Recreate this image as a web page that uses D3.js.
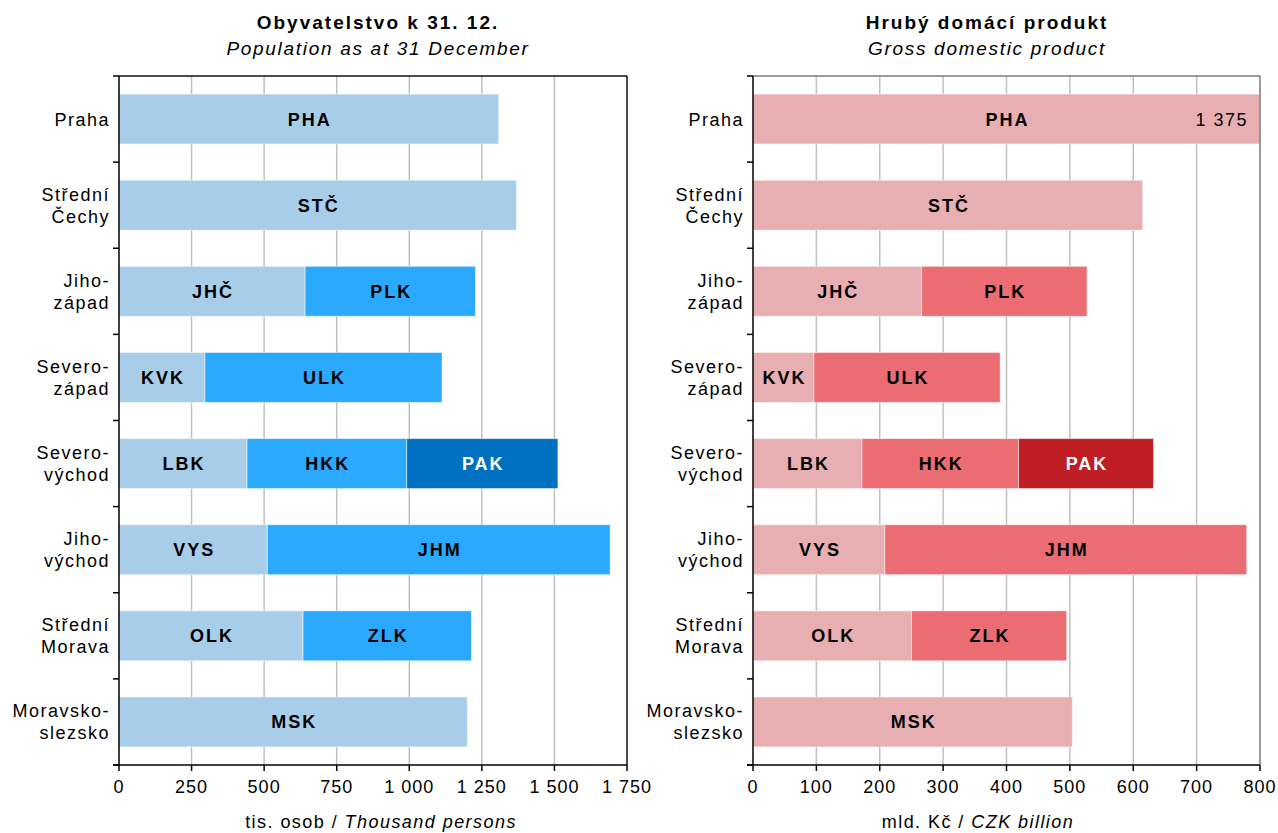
<!DOCTYPE html>
<html>
<head>
<meta charset="utf-8">
<script src="https://cdn.jsdelivr.net/npm/d3@7"></script>
<style>
  html, body { margin: 0; padding: 0; background: #fff; }
  svg { display: block; font-family: "Liberation Sans", Arial, sans-serif; }
</style>
</head>
<body>
<svg id="chart" width="1278" height="833"></svg>
<script>
// ---- Data ----
const regionNames = [["Praha"], ["Střední", "Čechy"], ["Jiho-", "západ"], ["Severo-", "západ"],
  ["Severo-", "východ"], ["Jiho-", "východ"], ["Střední", "Morava"], ["Moravsko-", "slezsko"]];
const regionCodes = [["PHA"], ["STČ"], ["JHČ", "PLK"], ["KVK", "ULK"], ["LBK", "HKK", "PAK"],
  ["VYS", "JHM"], ["OLK", "ZLK"], ["MSK"]];
const populationValues = [[1308], [1369], [641, 587], [296, 817], [441, 550, 521], [511, 1181], [634, 580], [1200]];
const gdpValues = [[1375], [615], [266, 261], [96, 294], [172, 247, 213], [208, 571], [250, 245], [504]];
const populationTicks = [0, 250, 500, 750, 1000, 1250, 1500, 1750];
const gdpTicks = [0, 100, 200, 300, 400, 500, 600, 700, 800];
const populationColors = ["#A7CDE8", "#2BA9FE", "#0070C0"];
const gdpColors = ["#E8AFB2", "#EB6C73", "#BE1E24"];

// ---- Drawing ----
const svg = d3.select("#chart");
const fmt = d3.formatLocale({ decimal: ",", thousands: "\u00a0", grouping: [3], currency: ["", ""] }).format(",d");
const FONT = 18;
const LS = 1.5;

function panel(opt) {
  const g = svg.append("g");
  const x = d3.scaleLinear().domain([0, opt.max]).range([opt.x0, opt.x1]);
  const y = d3.scaleBand().domain(d3.range(regionNames.length)).range([opt.y0, opt.y1]).paddingInner(0.42).paddingOuter(0.21);
  const step = y.step();

  // gridlines
  g.selectAll("line.grid").data(opt.ticks.filter(t => t > 0 && t < opt.max)).join("line")
    .attr("x1", d => x(d)).attr("x2", d => x(d))
    .attr("y1", opt.y0).attr("y2", opt.y1)
    .attr("stroke", "#C0C0C0").attr("stroke-width", 1.5);

  // bars
  regionCodes.forEach((codes, i) => {
    let acc = 0;
    codes.forEach((code, j) => {
      const v = opt.values[i][j];
      const a = acc, b = acc + v;
      acc = b;
      const xa = x(Math.min(a, opt.max)), xb = x(Math.min(b, opt.max));
      g.append("rect")
        .attr("x", xa).attr("y", y(i))
        .attr("width", xb - xa).attr("height", y.bandwidth())
        .attr("fill", opt.colors[j])
        .attr("stroke", "#ffffff").attr("stroke-opacity", 0.5).attr("stroke-width", 1);
      g.append("text")
        .attr("x", (xa + xb) / 2 + 1).attr("y", y(i) + y.bandwidth() / 2)
        .attr("dy", "0.36em").attr("text-anchor", "middle")
        .attr("font-weight", "bold").attr("font-size", FONT).attr("letter-spacing", 2)
        .attr("fill", j === 2 ? "#ffffff" : "#000000")
        .text(code);
      if (b > opt.max) {
        g.append("text")
          .attr("x", x(opt.max) - 12).attr("y", y(i) + y.bandwidth() / 2)
          .attr("dy", "0.36em").attr("text-anchor", "end")
          .attr("font-size", FONT).attr("letter-spacing", LS).attr("fill", "#000")
          .text(fmt(b));
      }
    });
  });

  // frame: top & right
  g.append("line").attr("x1", opt.x0).attr("x2", opt.x1).attr("y1", opt.y0).attr("y2", opt.y0)
    .attr("stroke", opt.frame).attr("stroke-width", 1.5);
  g.append("line").attr("x1", opt.x1).attr("x2", opt.x1).attr("y1", opt.y0).attr("y2", opt.y1)
    .attr("stroke", opt.frame).attr("stroke-width", 1.5);

  // left category axis
  g.append("line").attr("x1", opt.x0).attr("x2", opt.x0).attr("y1", opt.y0).attr("y2", opt.y1)
    .attr("stroke", "#000").attr("stroke-width", 1.5);
  g.selectAll("line.ctick").data(d3.range(regionNames.length + 1)).join("line")
    .attr("x1", opt.x0 - 6).attr("x2", opt.x0)
    .attr("y1", d => opt.y0 + d * step).attr("y2", d => opt.y0 + d * step)
    .attr("stroke", "#000").attr("stroke-width", 1.5);
  regionNames.forEach((lines, i) => {
    const cy = y(i) + y.bandwidth() / 2;
    const t = g.append("text").attr("text-anchor", "end").attr("font-size", FONT)
      .attr("letter-spacing", LS).attr("fill", "#000");
    lines.forEach((ln, k) => {
      t.append("tspan").attr("x", opt.x0 - 9)
        .attr("y", cy + (k - (lines.length - 1) / 2) * 22)
        .attr("dy", "0.36em").text(ln);
    });
  });

  // bottom value axis
  g.append("line").attr("x1", opt.x0 - 6).attr("x2", opt.x1).attr("y1", opt.y1).attr("y2", opt.y1)
    .attr("stroke", "#000").attr("stroke-width", 1.5);
  g.selectAll("line.vtick").data(opt.ticks).join("line")
    .attr("x1", d => x(d)).attr("x2", d => x(d))
    .attr("y1", opt.y1).attr("y2", opt.y1 + 6)
    .attr("stroke", "#000").attr("stroke-width", 1.5);
  g.selectAll("text.vlabel").data(opt.ticks).join("text")
    .attr("x", d => x(d)).attr("y", opt.y1 + 22)
    .attr("dy", "0.36em").attr("text-anchor", "middle")
    .attr("font-size", FONT).attr("letter-spacing", 1.0).attr("fill", "#000")
    .text(d => fmt(d));

  // axis title
  const at = g.append("text").attr("x", opt.axisTitleX).attr("y", opt.y1 + 57)
    .attr("dy", "0.36em").attr("text-anchor", "middle").attr("font-size", FONT)
    .attr("letter-spacing", 1.45).attr("fill", "#000");
  at.append("tspan").text(opt.axisTitle[0]);
  at.append("tspan").attr("font-style", "italic").text(opt.axisTitle[1]);

  // titles
  g.append("text").attr("x", opt.titleX).attr("y", 22).attr("dy", "0.36em")
    .attr("text-anchor", "middle").attr("font-weight", "bold").attr("font-size", 19)
    .attr("letter-spacing", 2).text(opt.title[0]);
  g.append("text").attr("x", opt.titleX).attr("y", 48).attr("dy", "0.36em")
    .attr("text-anchor", "middle").attr("font-style", "italic").attr("font-size", 19)
    .attr("letter-spacing", 1.7).text(opt.title[1]);
}

panel({
  values: populationValues, colors: populationColors, ticks: populationTicks, max: 1750,
  x0: 119, x1: 627, y0: 76, y1: 765, frame: "#111",
  title: ["Obyvatelstvo k 31. 12.", "Population as at 31 December"], titleX: 378,
  axisTitle: ["tis. osob / ", "Thousand persons"], axisTitleX: 381
});
panel({
  values: gdpValues, colors: gdpColors, ticks: gdpTicks, max: 800,
  x0: 753, x1: 1260, y0: 76, y1: 765, frame: "#7a7a7a",
  title: ["Hrubý domácí produkt", "Gross domestic product"], titleX: 987,
  axisTitle: ["mld. Kč / ", "CZK billion"], axisTitleX: 978
});
</script>
</body>
</html>
